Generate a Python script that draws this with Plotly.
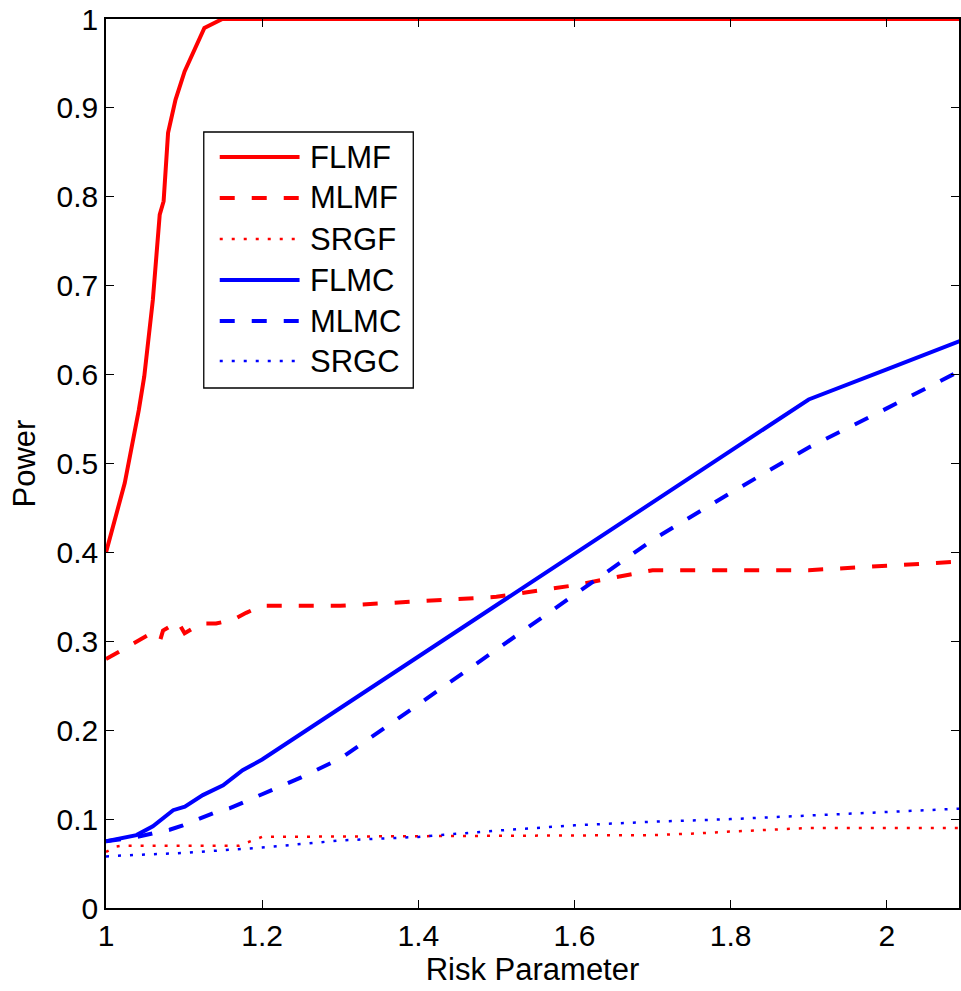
import plotly.graph_objects as go

# ---------------- data ----------------
flmf_x = [1.0, 1.024, 1.042, 1.049, 1.06, 1.0645, 1.0688, 1.0738, 1.0795, 1.089, 1.093, 1.1007, 1.126, 1.149, 1.3, 1.5, 1.7, 1.9, 2.1]
flmf_y = [0.40, 0.478, 0.56, 0.598, 0.684, 0.74, 0.78, 0.795, 0.872, 0.909, 0.92, 0.941, 0.99, 1.0, 1.0, 1.0, 1.0, 1.0, 1.0]

mlmf_x = [1.0, 1.054, 1.069, 1.073, 1.092, 1.1007, 1.122, 1.141, 1.162, 1.1795, 1.2, 1.3, 1.4, 1.5, 1.6, 1.7, 1.8, 1.9, 2.0, 2.1]
mlmf_y = [0.28, 0.307, 0.30, 0.312, 0.322, 0.309, 0.32, 0.32, 0.324, 0.332, 0.34, 0.34, 0.345, 0.35, 0.363, 0.38, 0.38, 0.38, 0.385, 0.39]

srgf_x = [1.0, 1.013, 1.02, 1.17, 1.2, 1.5, 1.7, 1.76, 1.8, 1.9, 2.0, 2.1]
srgf_y = [0.063, 0.069, 0.07, 0.07, 0.08, 0.081, 0.082, 0.084, 0.086, 0.09, 0.09, 0.09]

flmc_x = [1.0, 1.018, 1.039, 1.06, 1.077, 1.086, 1.101, 1.124, 1.15, 1.175, 1.2, 1.3, 1.4, 1.5, 1.6, 1.7, 1.8, 1.9, 2.0, 2.1]
flmc_y = [0.075, 0.0785, 0.082, 0.092, 0.103, 0.110, 0.114, 0.127, 0.138, 0.155, 0.167, 0.225, 0.283, 0.341, 0.398, 0.456, 0.514, 0.572, 0.606, 0.640]

mlmc_x = [1.0, 1.04, 1.06, 1.0815, 1.0985, 1.12, 1.137, 1.158, 1.175, 1.2, 1.25, 1.3, 1.4, 1.5, 1.6, 1.7, 1.8, 1.9, 2.0, 2.1]
mlmc_y = [0.075, 0.080, 0.084, 0.088, 0.093, 0.101, 0.1066, 0.112, 0.118, 0.128, 0.147, 0.168, 0.229, 0.291, 0.353, 0.414, 0.467, 0.518, 0.562, 0.607]

srgc_x = [1.0, 1.02, 1.1, 1.2, 1.3, 1.4, 1.5, 1.6, 1.7, 1.8, 1.9, 2.0, 2.1]
srgc_y = [0.058, 0.059, 0.062, 0.068, 0.076, 0.080, 0.087, 0.093, 0.097, 0.100, 0.104, 0.108, 0.112]

series_names = ["FLMF", "MLMF", "SRGF", "FLMC", "MLMC", "SRGC"]
x_ticks = [1, 1.2, 1.4, 1.6, 1.8, 2]
y_ticks = [0, 0.1, 0.2, 0.3, 0.4, 0.5, 0.6, 0.7, 0.8, 0.9, 1]

# ---------------- styles ----------------
RED = "#FF0000"
BLUE = "#0000FF"
styles = [
    dict(color=RED, width=4, dash="solid"),
    dict(color=RED, width=4, dash="15px,17px"),
    dict(color=RED, width=2.5, dash="3px,9px"),
    dict(color=BLUE, width=4, dash="solid"),
    dict(color=BLUE, width=4, dash="15px,17px"),
    dict(color=BLUE, width=2.5, dash="3px,9px"),
]
data = [(flmf_x, flmf_y), (mlmf_x, mlmf_y), (srgf_x, srgf_y),
        (flmc_x, flmc_y), (mlmc_x, mlmc_y), (srgc_x, srgc_y)]

W, H = 961, 991
ML, MR, MT, MB = 106, 0, 19, 83
PW, PH = W - ML - MR, H - MT - MB
FONT = "Liberation Sans, Arial, Helvetica, sans-serif"

fig = go.Figure()
for (xs, ys), name, st in zip(data, series_names, styles):
    fig.add_trace(go.Scatter(x=xs, y=ys, mode="lines", name=name,
                             line=st, showlegend=False))

# ---------------- manual legend (MATLAB style) ----------------
def px(xp):
    return (xp - ML) / PW

def py(yp):
    return (H - MB - yp) / PH

shapes = [dict(type="rect", xref="paper", yref="paper",
               x0=px(204), x1=px(414), y0=py(388), y1=py(132),
               line=dict(color="black", width=1.3), fillcolor="white", layer="above")]
annotations = []
row_y = [157, 198, 239, 280, 321, 361]
for name, st, ry in zip(series_names, styles, row_y):
    shapes.append(dict(type="line", xref="paper", yref="paper",
                       x0=px(220), x1=px(300), y0=py(ry), y1=py(ry),
                       line=st, layer="above"))
    annotations.append(dict(xref="paper", yref="paper", x=px(308), y=py(ry),
                            text=name, showarrow=False, xanchor="left", yanchor="middle",
                            font=dict(size=31, color="black", family=FONT)))

axis_common = dict(showline=True, linecolor="black", linewidth=1.5, mirror="ticks",
                   ticks="inside", ticklen=8, tickwidth=1.3, tickcolor="black",
                   showgrid=False, zeroline=False,
                   tickfont=dict(size=30, color="black", family=FONT))

fig.update_layout(
    width=W, height=H,
    margin=dict(l=ML, r=MR, t=MT, b=MB),
    plot_bgcolor="white", paper_bgcolor="white",
    showlegend=False,
    shapes=shapes, annotations=annotations,
    xaxis=dict(range=[1, 2.0925], tickvals=x_ticks, ticktext=[str(v) for v in x_ticks],
               title=dict(text="Risk Parameter", font=dict(size=31, color="black", family=FONT), standoff=4),
               **axis_common),
    yaxis=dict(range=[0, 1], tickvals=y_ticks, ticktext=[("%g" % v) for v in y_ticks],
               title=dict(text="Power", font=dict(size=31, color="black", family=FONT), standoff=12),
               **axis_common),
)

fig.write_html("out.html")
